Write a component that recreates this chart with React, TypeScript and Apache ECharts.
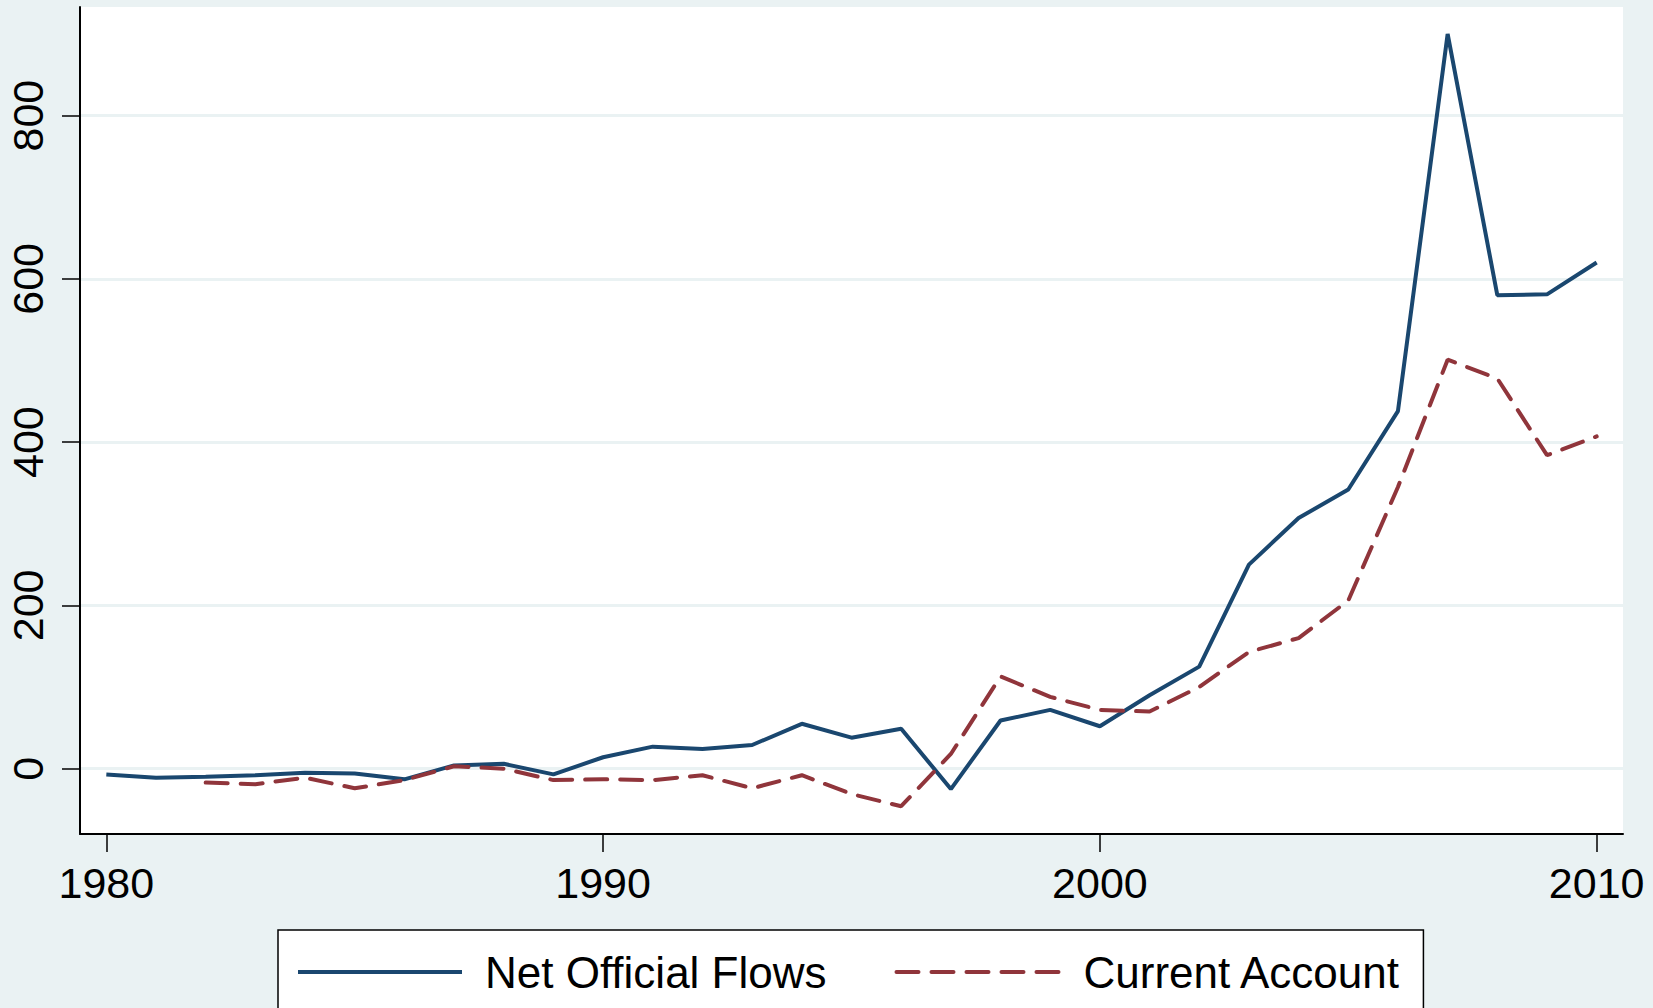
import React, { useEffect, useRef } from "react";
import * as echarts from "echarts";

const years = [
  1980, 1981, 1982, 1983, 1984, 1985, 1986, 1987, 1988, 1989,
  1990, 1991, 1992, 1993, 1994, 1995, 1996, 1997, 1998, 1999,
  2000, 2001, 2002, 2003, 2004, 2005, 2006, 2007, 2008, 2009, 2010,
];

const netOfficialFlows = [
  -7, -11, -10, -8, -5, -6, -13, 4, 6, -7,
  14, 27, 24, 29, 55, 38, 49, -25, 59, 72,
  52, 90, 125, 250, 307, 342, 438, 900, 580, 581, 620,
];

const currentAccount: (number | null)[] = [
  null, null, -17, -19, -11, -24, -14, 3, 0, -14,
  -13, -14, -8, -24, -8, -31, -46, 18, 113, 88,
  72, 70, 100, 143, 160, 206, 345, 501, 478, 384, 407,
];

const xTickLabels = [1980, 1990, 2000, 2010];
const yTickLabels = [0, 200, 400, 600, 800];

const seriesNames = ["Net Official Flows", "Current Account"];

const BG = "#eaf2f3";
const BLUE = "#1a476f";
const RED = "#90353b";
const FONT = "'Liberation Sans', Arial, Helvetica, sans-serif";

function toPairs(vals: (number | null)[]) {
  const out: [number, number][] = [];
  years.forEach((y, i) => {
    const v = vals[i];
    if (v !== null && v !== undefined) out.push([y, v]);
  });
  return out;
}

export default function App() {
  const ref = useRef<HTMLDivElement>(null);

  useEffect(() => {
    document.body.style.margin = "0";
    const chart = echarts.init(ref.current!, null, { renderer: "svg" });
    chart.setOption({
      animation: false,
      backgroundColor: BG,
      textStyle: { fontFamily: FONT },
      grid: {
        left: 80,
        right: 30,
        top: 7,
        bottom: 174,
        show: true,
        backgroundColor: "#ffffff",
        borderWidth: 0,
      },
      legend: {
        data: seriesNames,
        left: 278,
        top: 930,
        orient: "horizontal",
        itemWidth: 164,
        itemHeight: 14,
        itemGap: 68,
        padding: [20, 22, 30, 18],
        borderColor: "#000",
        borderWidth: 1.5,
        borderRadius: 0,
        backgroundColor: "#ffffff",
        selectedMode: false,
        itemStyle: { opacity: 0 },
        lineStyle: { width: 4 },
        textStyle: {
          fontSize: 44,
          color: "#000",
          fontFamily: FONT,
          padding: [0, 0, 0, 18],
        },
      },
      xAxis: {
        type: "value",
        min: 1979.47,
        max: 2010.53,
        axisLine: { show: true, onZero: false, lineStyle: { color: "#000", width: 2 } },
        axisTick: {
          show: true,
          length: 18,
          customValues: xTickLabels,
          lineStyle: { color: "#000", width: 1.5 },
        },
        axisLabel: {
          customValues: xTickLabels,
          fontSize: 43,
          color: "#000",
          fontFamily: FONT,
          margin: 27,
          formatter: (v: number) => String(v),
        },
        splitLine: { show: false },
      },
      yAxis: {
        type: "value",
        min: -80,
        max: 933,
        axisLine: { show: true, onZero: false, lineStyle: { color: "#000", width: 2 } },
        axisTick: {
          show: true,
          length: 18,
          customValues: yTickLabels,
          lineStyle: { color: "#000", width: 1.5 },
        },
        axisLabel: {
          customValues: yTickLabels,
          rotate: 90,
          fontSize: 43,
          color: "#000",
          fontFamily: FONT,
          margin: 31,
        },
        splitLine: { show: true, lineStyle: { color: BG, width: 3 } },
      },
      series: [
        {
          name: seriesNames[0],
          type: "line",
          data: toPairs(netOfficialFlows),
          showSymbol: false,
          symbol: "none",
          lineStyle: { color: BLUE, width: 4 },
          itemStyle: { color: BLUE },
        },
        {
          name: seriesNames[1],
          type: "line",
          data: toPairs(currentAccount),
          showSymbol: false,
          symbol: "none",
          lineStyle: { color: RED, width: 4, type: [22, 13], cap: "round" },
          itemStyle: { color: RED },
        },
      ],
    });
    return () => chart.dispose();
  }, []);

  return <div ref={ref} style={{ width: 1653, height: 1008 }} />;
}
